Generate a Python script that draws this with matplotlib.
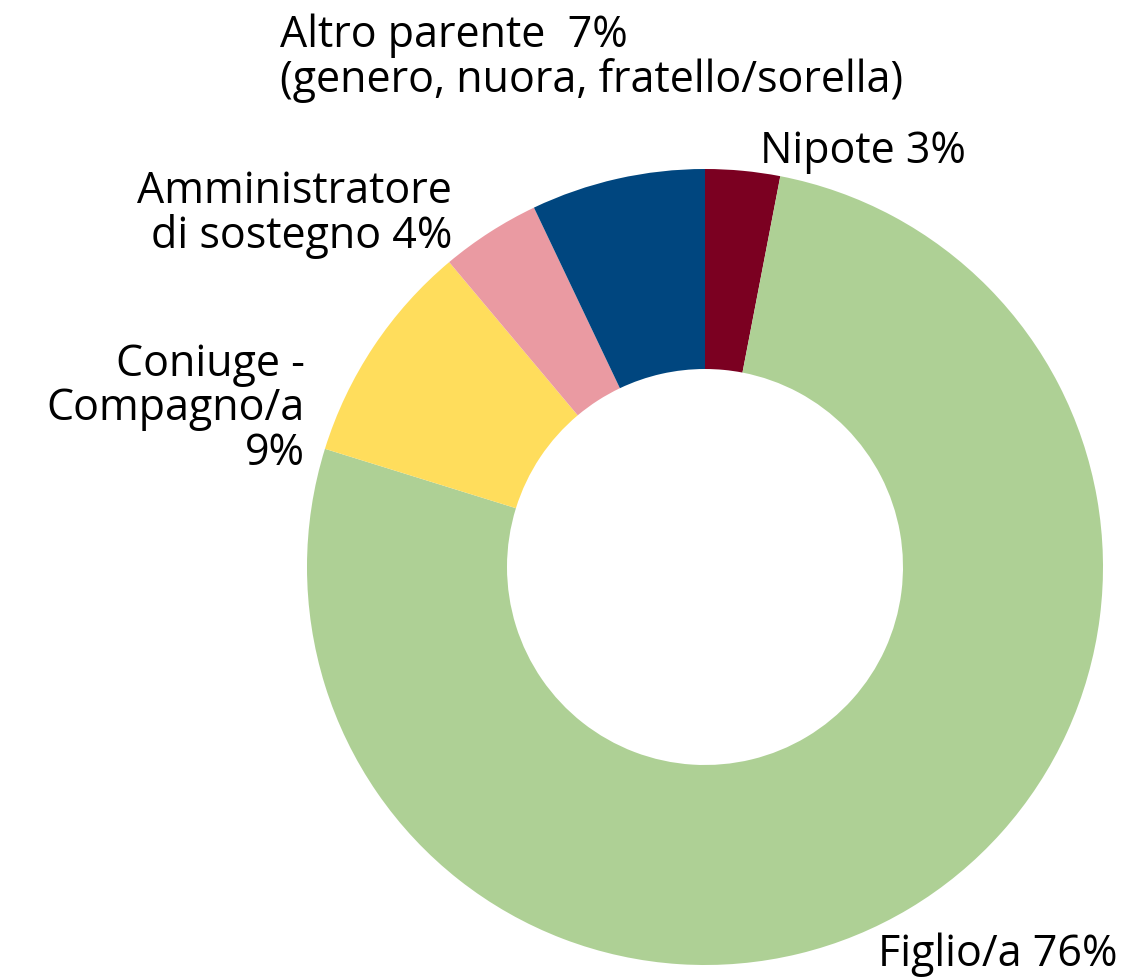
import matplotlib
matplotlib.use("Agg")
import matplotlib.pyplot as plt

# relationship of the caregiver, clockwise from 12 o'clock
labels = ["Nipote", "Figlio/a", "Coniuge - Compagno/a", "Amministratore di sostegno", "Altro parente"]
values = [3, 76, 9, 4, 7]
colors = ["#7B0021", "#AED095", "#FFDD5C", "#EA9AA2", "#00467F"]

plt.rcParams["font.family"] = ["Open Sans", "DejaVu Sans"]

W, H = 1126, 977
fig = plt.figure(figsize=(W / 100, H / 100), dpi=100)
ax = fig.add_axes([0, 0, 1, 1])

ax.pie(values, colors=colors, startangle=90, counterclock=False,
       center=(705, H - 567), radius=398,
       wedgeprops=dict(width=200, linewidth=0))

# pie() resets the limits, so set pixel-like coordinates afterwards
ax.set_xlim(0, W)
ax.set_ylim(0, H)
ax.set_aspect("equal")
ax.axis("off")

txt = dict(fontsize=31, color="black", linespacing=1.0)
ax.text(280, H - 58, "Altro parente  %d%%\n(genero, nuora, fratello/sorella)" % values[4],
        ha="left", va="center", **txt)
ax.text(760, H - 152, "Nipote %d%%" % values[0], ha="left", va="center", **txt)
ax.text(452, H - 214, "Amministratore\ndi sostegno %d%%" % values[3],
        ha="right", va="center", **txt)
ax.text(305, H - 409, "Coniuge -\nCompagno/a\n%d%%" % values[2],
        ha="right", va="center", **txt)
ax.text(1118, H - 955, "Figlio/a %d%%" % values[1], ha="right", va="center", **txt)

fig.savefig("out.png", dpi=100)
